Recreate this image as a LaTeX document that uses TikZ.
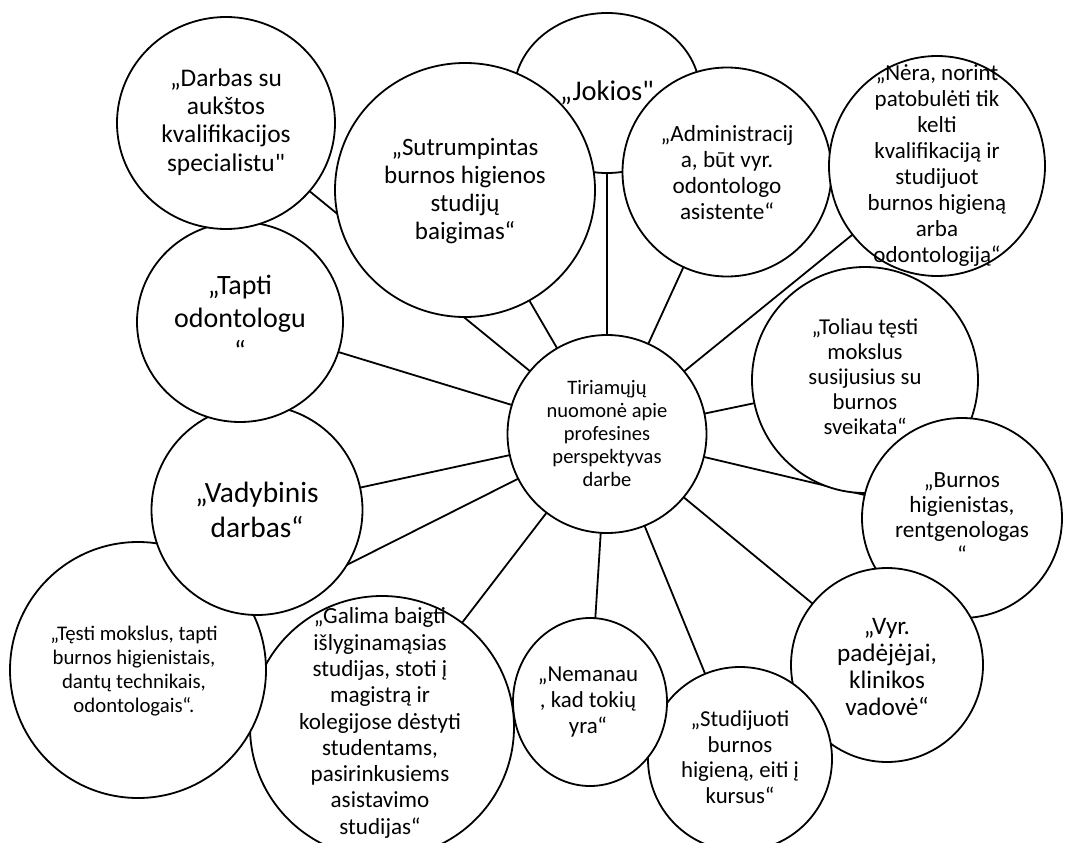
\documentclass[tikz,border=0pt]{standalone}
\usepackage{fontspec}
\setmainfont{Carlito}
\newfontfamily\carl{Carlito}
\newcommand\ff[2]{\carl\fontsize{#1}{#2}\selectfont}
\usetikzlibrary{shapes.geometric,backgrounds}
\tikzset{
  bub/.style={draw, fill=white, ellipse, inner sep=0pt, line width=1.8pt},
  txt/.style={align=center, inner sep=0pt},
  conn/.style={line width=1.8pt}
}
\begin{document}
\begin{tikzpicture}[x=1pt,y=-1pt]
\useasboundingbox (0,0) rectangle (1071,843);
% bubbles in stacking order
\node[bub, minimum width=186pt, minimum height=160pt] (jokios) at (607,93) {};
\node[txt, font=\ff{28.5}{34}] (jokiosT) at (jokios) {„Jokios"};
\node[bub, minimum width=209pt, minimum height=209pt] (admin) at (727,172) {};
\node[txt, font=\ff{23.2}{26}] (adminT) at (727,173) {„Administracij\\a, būt vyr.\\odontologo\\asistente“};
\node[bub, minimum width=216pt, minimum height=220pt] (nera) at (937,166) {};
\node[txt, font=\ff{23}{26}] (neraT) at (nera) {„Nėra, norint\\patobulėti tik\\kelti\\kvalifikaciją ir\\studijuot\\burnos higieną\\arba\\odontologiją“};
\node[bub, minimum width=226pt, minimum height=226pt] (toliau) at (865,380) {};
\node[txt, font=\ff{22.7}{25}] (toliauT) at (865,377) {„Toliau tęsti\\mokslus\\susijusius su\\burnos\\sveikata“};
\node[bub, minimum width=200pt, minimum height=200pt] (burnos) at (962,518) {};
\node[txt, font=\ff{23.2}{25}] (burnosT) at (burnos) {„Burnos\\higienistas,\\rentgenologas\\“};
\node[bub, minimum width=192pt, minimum height=194pt] (vyr) at (887,665) {};
\node[txt, font=\ff{25.2}{27}] (vyrT) at (887,667) {„Vyr.\\padėjėjai,\\klinikos\\vadovė“};
\node[bub, minimum width=184pt, minimum height=184pt] (stud) at (740,759) {};
\node[txt, font=\ff{22.8}{25.6}] (studT) at (740,757) {„Studijuoti\\burnos\\higieną, eiti į\\kursus“};
\node[bub, minimum width=154pt, minimum height=168pt] (neman) at (590,702) {};
\node[txt, font=\ff{22.9}{25.6}] (nemanT) at (588,702) {„Nemanau\\, kad tokių\\yra“};
\node[bub, minimum width=264pt, minimum height=262pt] (galima) at (382,727) {};
\node[txt, font=\ff{23.1}{26.3}] (galimaT) at (380,723) {„Galima baigti\\išlyginamąsias\\studijas, stoti į\\magistrą ir\\kolegijose dėstyti\\studentams,\\pasirinkusiems\\asistavimo\\studijas“};
\node[bub, minimum width=256pt, minimum height=256pt] (testi) at (138,670) {};
\node[txt, font=\ff{20.8}{24}] (testiT) at (134,671) {„Tęsti mokslus, tapti\\burnos higienistais,\\dantų technikais,\\odontologais“.};
\node[bub, minimum width=211pt, minimum height=210pt] (vadyb) at (257,510) {};
\node[txt, font=\ff{29.4}{35}] (vadybT) at (vadyb) {„Vadybinis\\darbas“};
\node[bub, minimum width=206pt, minimum height=200pt] (tapti) at (240,322) {};
\node[txt, font=\ff{28}{33}] (taptiT) at (240,318) {„Tapti\\odontologu\\“};
\node[bub, minimum width=218pt, minimum height=212pt] (darbas) at (226,123) {};
\node[txt, font=\ff{25.4}{28.3}] (darbasT) at (226,122) {„Darbas su\\aukštos\\kvalifikacijos\\specialistu"};
\node[bub, minimum width=260pt, minimum height=254pt] (sutr) at (465,190) {};
\node[txt, font=\ff{25}{27.7}] (sutrT) at (465,191) {„Sutrumpintas\\burnos higienos\\studijų\\baigimas“};
\node[bub, minimum width=199pt, minimum height=198pt] (hub) at (607,434) {};
\node[txt, font=\ff{20.5}{23}] (hubT) at (hub) {Tiriamųjų\\nuomonė apie\\profesines\\perspektyvas\\darbe};
% connectors behind the bubbles
\begin{scope}[on background layer]
\foreach \n in {jokios,admin,nera,toliau,burnos,vyr,stud,neman,galima,testi,vadyb,tapti,darbas,sutr}
  \draw[conn] (hub.center) -- (\n.center);
\end{scope}
\end{tikzpicture}
\end{document}
